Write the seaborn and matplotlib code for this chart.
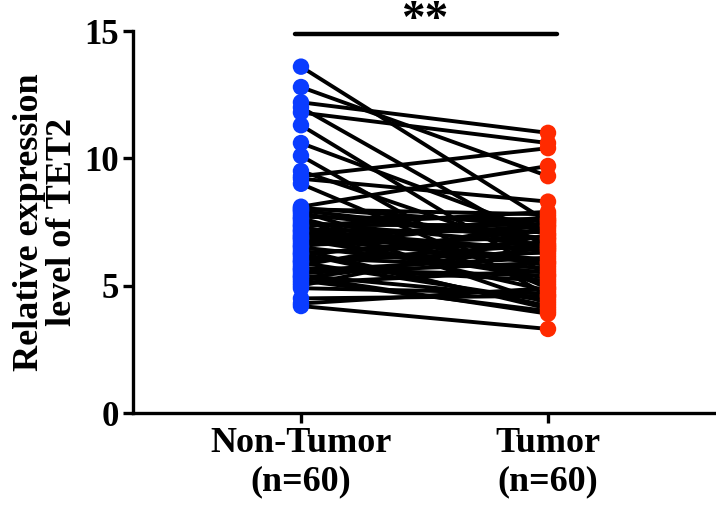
import numpy as np
import pandas as pd
import seaborn as sns
import matplotlib.pyplot as plt

# -----------------------------
# DATA
# -----------------------------
groups = ["Non-Tumor\n(n=60)", "Tumor\n(n=60)"]

non_tumor = [13.6, 12.8, 12.2, 12.0, 11.8, 11.3, 10.6, 10.1, 9.5, 9.3,
             9.2, 9.0, 8.1, 8.0, 7.9, 7.8, 7.7, 7.6, 7.5, 7.4,
             7.3, 7.2, 7.1, 7.0, 6.95, 6.9, 6.8, 6.7, 6.6, 6.5,
             6.4, 6.3, 6.2, 6.1, 6.0, 5.9, 5.8, 5.7, 5.6, 5.5,
             5.4, 5.3, 5.2, 5.1, 5.0, 4.9, 7.95, 7.65, 7.35, 7.15,
             6.85, 6.55, 6.25, 5.95, 5.65, 5.35, 8.05, 4.5, 4.3, 4.2]

tumor = [7.5, 9.3, 11.0, 6.5, 10.6, 5.4, 7.0, 4.6, 6.2, 10.4,
         8.3, 4.9, 9.7, 7.8, 5.0, 6.8, 7.6, 4.3, 6.6, 7.4,
         5.8, 7.1, 6.0, 4.8, 7.3, 6.4, 5.3, 7.7, 6.9, 5.5,
         4.1, 6.7, 7.2, 5.7, 6.3, 4.4, 7.5, 5.2, 6.1, 5.9,
         4.5, 6.5, 4.0, 5.6, 7.0, 4.7, 6.85, 5.1, 7.9, 6.4,
         5.9, 7.6, 4.2, 6.6, 5.4, 3.9, 7.35, 4.6, 4.9, 3.3]

y_ticks = [0, 5, 10, 15]
sig_label = "**"

n = len(non_tumor)
df = pd.DataFrame({
    "pair": list(range(n)) * 2,
    "pos": [0] * n + [1] * n,
    "value": non_tumor + tumor,
    "group": [groups[0]] * n + [groups[1]] * n,
})

# -----------------------------
# PLOT
# -----------------------------
sns.set_style("ticks")
plt.rcParams["font.family"] = ["Liberation Serif", "DejaVu Serif"]
plt.rcParams["font.weight"] = "bold"

fig = plt.figure(figsize=(7.16, 5.11), dpi=100)
ax = fig.add_axes([133 / 716, 1 - 413 / 511, (714 - 133) / 716, (413 - 31) / 511])

sns.lineplot(data=df, x="pos", y="value", units="pair", estimator=None,
             color="black", lw=2.8, ax=ax, legend=False)
sns.scatterplot(data=df, x="pos", y="value", hue="group",
                palette=["#0a3cff", "#ff2a00"], s=140, edgecolor="none",
                ax=ax, legend=False, zorder=3)

ax.set_xlim(-0.68, 1.672)
ax.set_ylim(0, 15)
ax.set_xticks([0, 1])
ax.set_xticklabels(groups, fontsize=26, fontweight="bold", color="black")
ax.set_yticks(y_ticks)
ax.set_yticklabels([str(t) for t in y_ticks], fontsize=25, fontweight="bold",
                   color="black")
ax.set_xlabel("")
ax.set_ylabel("Relative expression\nlevel of TET2", fontsize=26,
              fontweight="bold", color="black", labelpad=4, linespacing=1.0)

for side in ["top", "right"]:
    ax.spines[side].set_visible(False)
for side in ["left", "bottom"]:
    ax.spines[side].set_linewidth(2.4)
    ax.spines[side].set_color("black")
ax.tick_params(axis="both", width=2.4, length=7, pad=3, color="black")

# significance bar
ax.plot([-0.025, 1.035], [14.88, 14.88], color="black", lw=3.2,
        solid_capstyle="round", clip_on=False)
ax.text(0.5, 14.98, sig_label, ha="center", va="baseline", fontsize=34,
        fontweight="bold", color="black", clip_on=False)

plt.savefig("out.png", dpi=100)
